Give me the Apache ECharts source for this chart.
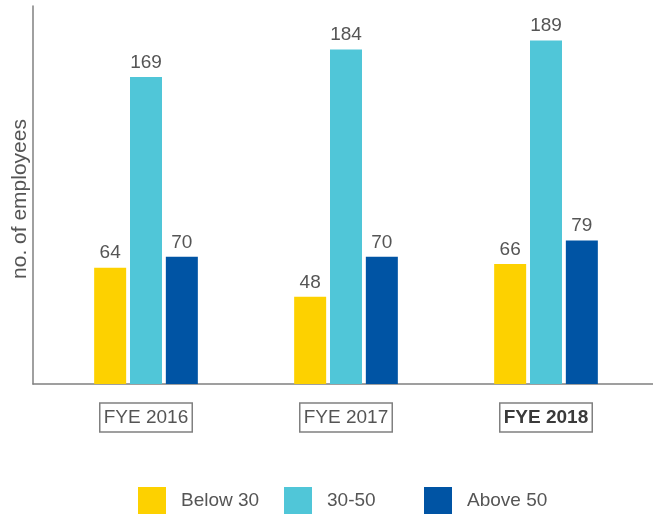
<!DOCTYPE html>
<html>
<head>
    <meta charset="utf-8">
    <title>Employees by age</title>
    <script type="text/javascript" src="https://cdn.jsdelivr.net/npm/echarts@6/dist/echarts.min.js"></script>
    <style>
        html, body { margin: 0; padding: 0; background: #fff; }
    </style>
</head>
<body>
    <div id="main" style="width: 653px;height:518px;"></div>
    <script type="text/javascript">
    var years = ['FYE 2016', 'FYE 2017', 'FYE 2018'];
    var below30 = [64, 48, 66];
    var mid3050 = [169, 184, 189];
    var above50 = [70, 70, 79];
    var seriesNames = ['Below 30', '30-50', 'Above 50'];
    var colors = ['#FDD100', '#50C6D8', '#0054A4'];

    var myChart = echarts.init(document.getElementById('main'));
    var font = 'Liberation Sans, Arial, sans-serif';

    // one legend per item, the gaps between them are uneven in the original
    function legendAt(left, name) {
        return {
            left: left,
            top: 482,
            itemWidth: 28,
            itemHeight: 27,
            icon: 'rect',
            selectedMode: false,
            data: [name],
            textStyle: { fontSize: 19, color: '#555', fontFamily: font, padding: [0, 0, 0, 10] }
        };
    }

    function barSeries(i, data) {
        return {
            name: seriesNames[i],
            type: 'bar',
            xAxisIndex: 1,
            yAxisIndex: 1,
            barWidth: 32,
            barGap: '12%',
            itemStyle: { color: colors[i] },
            label: {
                show: true,
                position: 'top',
                distance: 5,
                fontSize: 19,
                color: '#555',
                fontFamily: font
            },
            data: data
        };
    }

    var option = {
        animation: false,
        legend: [
            legendAt(133, seriesNames[0]),
            legendAt(279, seriesNames[1]),
            legendAt(419, seriesNames[2])
        ],
        grid: [
            { left: 33, right: 0, top: 6, bottom: 134 },
            { left: 46, right: 7, top: 6, bottom: 134 }
        ],
        xAxis: [
            {
                gridIndex: 0,
                type: 'value',
                min: 0,
                max: 1,
                axisLine: { show: true, lineStyle: { color: '#808080', width: 1.5 } },
                axisTick: { show: false },
                axisLabel: { show: false },
                splitLine: { show: false }
            },
            {
                gridIndex: 1,
                type: 'category',
                data: years,
                axisLine: { show: false },
                axisTick: { show: false },
                axisLabel: {
                    margin: 19,
                    fontSize: 19,
                    color: '#555',
                    fontFamily: font,
                    borderColor: '#808080',
                    borderWidth: 1.5,
                    padding: [5, 4, 5, 4],
                    formatter: function (v) {
                        return v === 'FYE 2018' ? '{b|' + v + '}' : v;
                    },
                    rich: {
                        b: { fontSize: 19, fontWeight: 'bold', color: '#3a3a3a', fontFamily: font }
                    }
                }
            }
        ],
        yAxis: [
            {
                gridIndex: 0,
                type: 'value',
                min: 0,
                max: 1,
                name: 'no. of employees',
                nameLocation: 'middle',
                nameGap: 2,
                nameTextStyle: { fontSize: 21, color: '#555', fontFamily: font, padding: [0, 8, 0, 0] },
                axisLine: { show: true, lineStyle: { color: '#808080', width: 1.5 } },
                axisTick: { show: false },
                axisLabel: { show: false },
                splitLine: { show: false }
            },
            {
                gridIndex: 1,
                type: 'value',
                min: 0,
                max: 208,
                show: false,
                splitLine: { show: false }
            }
        ],
        series: [
            barSeries(0, below30),
            barSeries(1, mid3050),
            barSeries(2, above50)
        ]
    };

    myChart.setOption(option);
    </script>
</body>
</html>
